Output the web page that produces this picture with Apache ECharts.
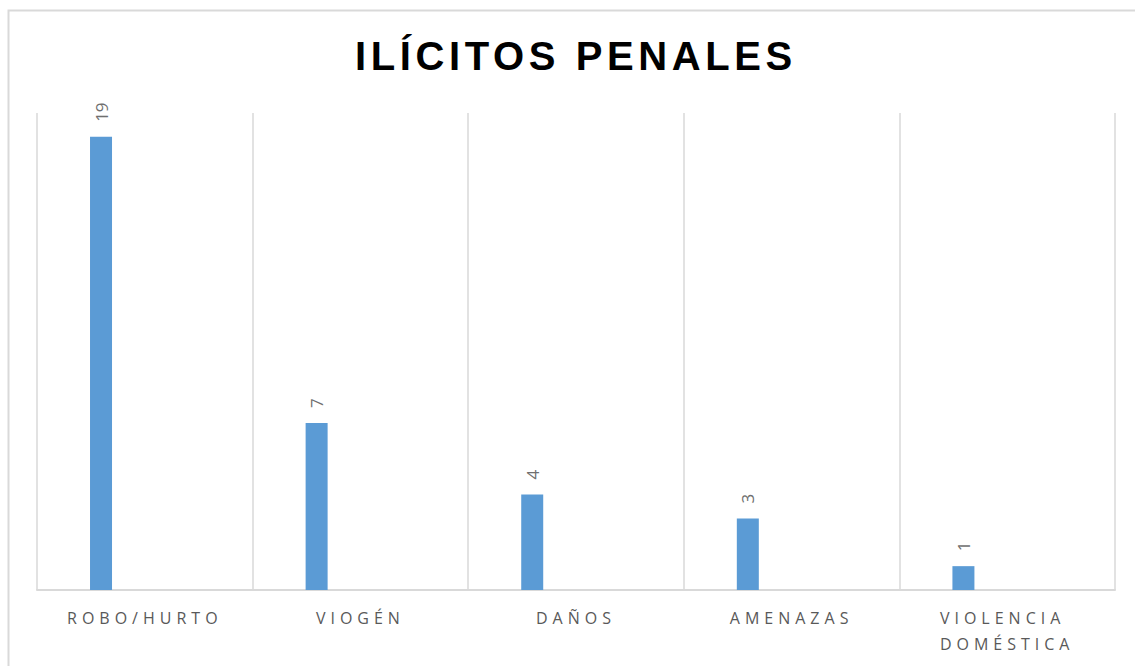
<!DOCTYPE html>
<html>
<head>
<meta charset="utf-8">
<script src="https://cdn.jsdelivr.net/npm/echarts@6/dist/echarts.min.js"></script>
<style>
  html, body { margin: 0; padding: 0; background: #fff; }
  #chart { width: 1135px; height: 666px; }
</style>
</head>
<body>
<div id="chart"></div>
<script>
// ilícitos penales
const titleText = "ILÍCITOS PENALES";
const categories = ["ROBO/HURTO", "VIOGÉN", "DAÑOS", "AMENAZAS", "VIOLENCIA DOMÉSTICA"];
const values = [19, 7, 4, 3, 1];

const gridColor = "#d9d9d9";

const option = {
  animation: false,
  title: {
    text: titleText,
    left: 355,
    top: 36,
    padding: 0,
    textStyle: {
      fontFamily: "Liberation Sans",
      fontWeight: "bold",
      fontSize: 40,
      color: "#000",
    },
  },
  graphic: [
    {
      type: "rect",
      shape: { x: 8.5, y: 10.5, width: 1140, height: 700 },
      style: { fill: "none", stroke: gridColor, lineWidth: 2 },
      silent: true,
    },
  ],
  grid: {
    left: 37,
    right: 20,
    top: 113,
    bottom: 76,
  },
  xAxis: {
    type: "category",
    data: categories,
    axisLine: { lineStyle: { color: gridColor, width: 2 } },
    axisTick: { show: false },
    splitLine: { show: true, lineStyle: { color: gridColor, width: 1.5 } },
    axisLabel: {
      interval: 0,
      margin: 15,
      width: 130,
      overflow: "break",
      lineHeight: 26,
      fontFamily: "Open Sans",
      fontSize: 16,
      color: "#595959",
    },
  },
  yAxis: {
    type: "value",
    min: 0,
    max: 20,
    show: false,
    splitLine: { show: false },
  },
  series: [
    {
      name: "Total",
      type: "bar",
      data: values,
      barWidth: 22,
      barGap: "298%",
      itemStyle: { color: "#5b9bd5" },
      label: {
        show: true,
        position: "top",
        rotate: 90,
        align: "left",
        verticalAlign: "middle",
        distance: 15,
        fontFamily: "Open Sans",
        fontSize: 17,
        color: "#6f6f6f",
      },
    },
    {
      // serie vacía, como en el original
      name: "Vacía",
      type: "bar",
      data: [],
      barWidth: 22,
    },
  ],
};

const chart = echarts.init(document.getElementById("chart"), null, { renderer: "svg" });
chart.setOption(option);

// espaciado entre letras (estilo Excel)
function spaceLetters() {
  document.querySelectorAll("#chart svg text").forEach((el) => {
    const cs = getComputedStyle(el);
    if (cs.fontWeight === "700" || cs.fontWeight === "bold") {
      el.style.letterSpacing = "4.6px";
    } else if (cs.fontSize === "16px") {
      el.style.letterSpacing = "5px";
    }
  });
}
spaceLetters();
chart.on("finished", spaceLetters);
</script>
</body>
</html>
